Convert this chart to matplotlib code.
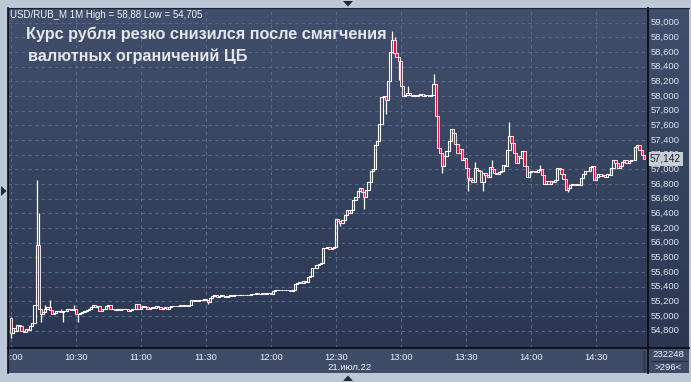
import matplotlib
matplotlib.use("Agg")
import matplotlib.pyplot as plt
import numpy as np
from matplotlib.patches import Rectangle, Polygon
from matplotlib.lines import Line2D

# ---------------- data (1-minute candles, USD/RUB, 21 Jul 22, from 10:00) ----------------
first_open = 54.97
closes = [
    54.77, 54.83, 54.80, 54.88, 54.86, 54.79, 54.78, 54.82, 54.81, 54.86,   # 10:00
    54.90, 55.15, 55.97, 55.10, 55.02, 55.05, 55.10, 55.12, 55.08, 55.03,   # 10:10
    55.04, 55.06, 55.07, 55.05, 55.06, 55.07, 55.09, 55.10, 55.08, 55.10,   # 10:20
    55.03, 55.02, 55.04, 55.05, 55.07, 55.08, 55.10, 55.12, 55.15, 55.12,   # 10:30
    55.13, 55.07, 55.09, 55.10, 55.13, 55.15, 55.09, 55.10, 55.08, 55.09,   # 10:40
    55.08, 55.09, 55.09, 55.10, 55.07, 55.08, 55.09, 55.10, 55.16, 55.10,   # 10:50
    55.12, 55.13, 55.12, 55.10, 55.11, 55.12, 55.11, 55.13, 55.12, 55.10,   # 11:00
    55.11, 55.12, 55.10, 55.12, 55.13, 55.14, 55.13, 55.14, 55.15, 55.14,   # 11:10
    55.15, 55.14, 55.15, 55.21, 55.20, 55.21, 55.20, 55.21, 55.22, 55.23,   # 11:20
    55.22, 55.19, 55.24, 55.27, 55.28, 55.26, 55.27, 55.28, 55.27, 55.26,   # 11:30
    55.27, 55.28, 55.27, 55.28, 55.29, 55.28, 55.29, 55.29, 55.28, 55.29,   # 11:40
    55.29, 55.30, 55.30, 55.31, 55.30, 55.30, 55.31, 55.30, 55.31, 55.31,   # 11:50
    55.30, 55.34, 55.35, 55.36, 55.35, 55.36, 55.35, 55.36, 55.35, 55.34,   # 12:00
    55.35, 55.44, 55.45, 55.46, 55.45, 55.47, 55.46, 55.53, 55.55, 55.66,   # 12:10
    55.65, 55.70, 55.71, 55.72, 55.92, 55.93, 55.94, 55.91, 55.93, 55.94,   # 12:20
    56.32, 56.30, 56.27, 56.31, 56.38, 56.45, 56.40, 56.44, 56.58, 56.62,   # 12:30
    56.70, 56.74, 56.69, 56.62, 56.72, 56.83, 56.98, 57.00, 57.33, 57.38,   # 12:40
    57.62, 57.98, 58.00, 57.95, 58.20, 58.60, 58.76, 58.58, 58.53, 58.48,   # 12:50
    58.14, 58.00, 58.02, 58.04, 58.01, 58.00, 58.02, 58.00, 58.01, 58.03,   # 13:00
    58.00, 58.02, 58.01, 58.00, 58.02, 58.16, 57.72, 57.29, 57.22, 57.05,   # 13:10
    57.18, 57.25, 57.38, 57.55, 57.50, 57.35, 57.22, 57.28, 57.12, 57.15,   # 13:20
    57.02, 56.88, 56.85, 56.82, 57.02, 56.99, 56.97, 56.82, 56.95, 56.92,   # 13:30
    56.90, 57.03, 57.00, 56.95, 56.93, 56.96, 56.98, 57.06, 57.05, 57.26,   # 13:40
    57.46, 57.36, 57.22, 57.08, 57.18, 57.16, 57.25, 57.05, 56.90, 56.96,   # 13:50
    56.97, 56.98, 56.96, 56.99, 57.00, 56.92, 56.80, 56.84, 56.80, 56.84,   # 14:00
    56.82, 56.85, 57.02, 57.00, 56.93, 56.87, 56.72, 56.74, 56.78, 56.80,   # 14:10
    56.78, 56.80, 56.79, 56.88, 56.94, 56.98, 56.97, 57.03, 57.05, 56.86,   # 14:20
    56.90, 56.93, 56.91, 56.92, 56.90, 56.93, 56.92, 57.02, 57.12, 57.08,   # 14:30
    57.02, 57.05, 57.10, 57.12, 57.08, 57.11, 57.13, 57.12, 57.30, 57.33,   # 14:40
    57.26, 57.20, 57.14,                                                    # 14:50
]
# wick extremes (minute index -> value)
high_marks = {0: 54.99, 12: 56.85, 13: 56.40, 16: 55.15, 18: 55.22, 23: 55.10, 29: 55.15,
              176: 58.88, 177: 58.80, 183: 58.14, 195: 58.30, 214: 57.10, 222: 57.12,
              230: 57.65, 244: 57.06}
low_marks = {0: 54.705, 14: 54.92, 24: 54.91, 31: 54.92, 91: 55.16, 152: 56.22,
             163: 56.46, 173: 57.76, 179: 58.22, 199: 56.95, 211: 56.70, 218: 56.70,
             257: 56.69}

price_ticks = [54.8, 55.0, 55.2, 55.4, 55.6, 55.8, 56.0, 56.2, 56.4, 56.6, 56.8,
               57.0, 57.2, 57.4, 57.6, 57.8, 58.0, 58.2, 58.4, 58.6, 58.8, 59.0]
time_ticks = [0, 30, 60, 90, 120, 150, 180, 210, 240, 270]
time_labels = ["10:00", "10:30", "11:00", "11:30", "12:00", "12:30", "13:00",
               "13:30", "14:00", "14:30"]
date_label = "21.июл.22"
header = "USD/RUB_M 1M High = 58,88 Low = 54,705"
title_1 = "Курс рубля резко снизился после смягчения"
title_2 = "валютных ограничений ЦБ"
last_price = "57,142"
volume_text = "232248"
count_text = ">296<"

# ---------------- layout ----------------
W, H = 691, 382
FONT = ["Liberation Sans", "DejaVu Sans"]
plt.rcParams["font.family"] = FONT
fig = plt.figure(figsize=(W / 100, H / 100), dpi=100, facecolor="#bdc8d7")

L, R, T, B = 8, 648, 8, 348   # plot area in pixels
BB = 373                        # bottom of time panel
RR = 689                        # right end of price panel
XLIM = (-1.25, 293.9)
YLIM = (54.562, 59.2)

def rect(x0, y0, x1, y1):
    return [x0 / W, 1 - y1 / H, (x1 - x0) / W, (y1 - y0) / H]

grad = np.linspace(0, 1, 256).reshape(-1, 1)
top_c = np.array([0x41, 0x4f, 0x6c]) / 255
bot_c = np.array([0x2b, 0x37, 0x52]) / 255
grad_img = top_c[None, None, :] * (1 - grad[:, :, None]) + bot_c[None, None, :] * grad[:, :, None]

ax = fig.add_axes(rect(L, T, R, B))
ax.set_xlim(*XLIM)
ax.set_ylim(*YLIM)
ax.imshow(grad_img, extent=[0, 1, 0, 1], transform=ax.transAxes, aspect="auto", zorder=0)
for s in ax.spines.values():
    s.set_visible(False)
ax.set_xticks([])
ax.set_yticks([])

# grid
for v in price_ticks:
    ax.axhline(v, color="#58678a", lw=0.8, ls=(0, (3, 3)), zorder=1)
for t in time_ticks:
    ax.axvline(t, color="#58678a", lw=0.8, ls=(0, (3, 3)), zorder=1)

# candles
RED = "#ee0a3a"
opens = [first_open] + closes[:-1]
for i, (o, c) in enumerate(zip(opens, closes)):
    hi = max(high_marks.get(i, max(o, c)), o, c)
    lo = min(low_marks.get(i, min(o, c)), o, c)
    top, bot = max(o, c), min(o, c)
    if hi > top:
        ax.plot([i, i], [top, hi], color="white", lw=0.9, zorder=3, solid_capstyle="butt")
    if lo < bot:
        ax.plot([i, i], [lo, bot], color="white", lw=0.9, zorder=3, solid_capstyle="butt")
    if c < o:
        ax.add_patch(Rectangle((i - 0.55, bot), 1.1, top - bot,
                               facecolor=RED, edgecolor="white", lw=0.6, zorder=3.5))
    else:
        ax.add_patch(Rectangle((i - 0.5, bot), 1.0, max(top - bot, 1e-4),
                               facecolor="none", edgecolor="white", lw=0.8, zorder=3))

# header + title
ax.text(2 / (R - L), 1 - (17.7 - T) / (B - T), header, transform=ax.transAxes,
        fontsize=7.0, color="#eef2f8", va="baseline", ha="left", zorder=5)
fig.text(26 / W, 1 - 38.5 / H, title_1, fontsize=11.7, fontweight="bold",
         color="#e4e6ea", va="baseline", ha="left")
fig.text(28 / W, 1 - 61 / H, title_2, fontsize=11.7, fontweight="bold",
         color="#e4e6ea", va="baseline", ha="left")

# right price panel
axr = fig.add_axes(rect(R, T, RR, B))
axr.set_xlim(0, 1)
axr.set_ylim(*YLIM)
axr.imshow(grad_img, extent=[0, 1, 0, 1], transform=axr.transAxes, aspect="auto", zorder=0)
axr.set_axis_off()
for v in price_ticks:
    axr.text(3 / (RR - R), v, f"{v:.3f}".replace(".", ","), fontsize=6.8,
             color="#dde5f1", va="center", ha="left", zorder=2)
lp = float(last_price.replace(",", "."))
axr.text(2 / (RR - R), lp, last_price, fontsize=7.3, color="#1b2130", va="center", ha="left",
         zorder=4, bbox=dict(boxstyle="square,pad=0.18", facecolor="#c9ced6", edgecolor="none"))

# bottom time panel
axb = fig.add_axes(rect(L, B, R, BB))
axb.set_xlim(*XLIM)
axb.set_ylim(0, 1)
axb.set_facecolor("#3f4c68")
for s in axb.spines.values():
    s.set_visible(False)
axb.set_xticks([])
axb.set_yticks([])
for t, lab in zip(time_ticks, time_labels):
    axb.text(t, 0.64, lab, fontsize=6.8, color="#eef2f8", ha="center", va="center", clip_on=True)
axb.text(156.3, 0.22, date_label, fontsize=6.8, color="#eef2f8", ha="center", va="center")
axb.plot([(644 - L) / (R - L) * (XLIM[1] - XLIM[0]) + XLIM[0]] * 2, [0.1, 0.9],
         color="#2a3346", lw=1)

# bottom-right info box
axi = fig.add_axes(rect(R, B, RR, BB))
axi.set_xlim(0, 1)
axi.set_ylim(0, 1)
axi.set_facecolor("#3f4c68")
axi.set_xticks([])
axi.set_yticks([])
for s in axi.spines.values():
    s.set_visible(False)
axi.text(0.5, 0.75, volume_text, fontsize=6.8, color="#eef2f8", ha="center", va="center")
axi.text(0.5, 0.23, count_text, fontsize=6.8, color="#eef2f8", ha="center", va="center")
axi.plot([0.08, 0.95], [0.5, 0.5], color="#222b3c", lw=0.8)

# separators / borders
def fline(x0, y0, x1, y1, c="#0c0f16", lw=1.3):
    fig.add_artist(Line2D([x0 / W, x1 / W], [1 - y0 / H, 1 - y1 / H], color=c, lw=lw))

fline(R, T, R, BB)
fline(L, B, RR, B)
fline(L, T, L, BB, lw=1.2)
fline(L, T, RR, T, c="#1c2536", lw=0.8)

# small markers on the frame
def tri(pts, c="#1e2838"):
    fig.add_artist(Polygon([(x / W, 1 - y / H) for x, y in pts], closed=True,
                           facecolor=c, edgecolor="none"))

tri([(343, 1), (353, 1), (348, 6.5)])
tri([(343, 381), (353, 381), (348, 375.5)])
tri([(1, 186), (1, 196), (6.5, 191)])

fig.savefig("out.png", dpi=100, facecolor=fig.get_facecolor())
